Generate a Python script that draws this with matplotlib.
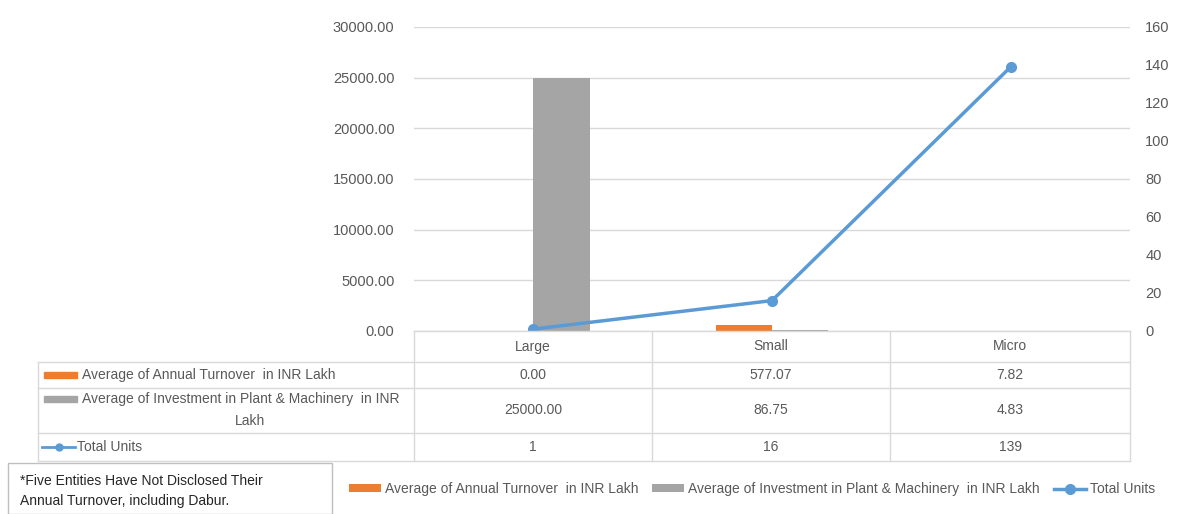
import matplotlib.pyplot as plt
from matplotlib.patches import Rectangle
from matplotlib.lines import Line2D

plt.rcParams['font.family'] = ['Liberation Sans', 'DejaVu Sans']

# data
categories = ['Large', 'Small', 'Micro']
turnover = [0.00, 577.07, 7.82]
investment = [25000.00, 86.75, 4.83]
total_units = [1, 16, 139]
row_labels = ['Average of Annual Turnover  in INR Lakh',
              'Average of Investment in Plant & Machinery  in INR',
              'Lakh',
              'Total Units']
note = '*Five Entities Have Not Disclosed Their\nAnnual Turnover, including Dabur.'

ORANGE = '#ED7D31'
GRAY = '#A5A5A5'
BLUE = '#5B9BD5'
TXT = '#595959'
GRID = '#D9D9D9'
FS = 10

W, H = 1188, 514
fig = plt.figure(figsize=(W / 100, H / 100), dpi=100)


def fx(px):
    return px / W


def fy(py):
    return 1 - py / H


# plot area
left, right, top, bottom = 414, 1130, 27, 331
ax = fig.add_axes([fx(left), fy(bottom), fx(right - left), (bottom - top) / H])
x = list(range(len(categories)))
bw = 0.235
b1 = ax.bar([i - 0.118 for i in x], turnover, width=bw, color=ORANGE,
            label='Average of Annual Turnover  in INR Lakh', zorder=2)
b2 = ax.bar([i + 0.118 for i in x], investment, width=bw, color=GRAY,
            label='Average of Investment in Plant & Machinery  in INR Lakh', zorder=2)
ax.set_xlim(-0.5, 2.5)
ax.set_ylim(0, 30000)
ax.set_yticks(range(0, 30001, 5000))
ax.set_yticklabels([f'{v:.2f}' for v in range(0, 30001, 5000)])
ax.set_xticks([])
ax.grid(axis='y', color=GRID, linewidth=1, zorder=0)
for s in ax.spines.values():
    s.set_visible(False)
ax.tick_params(axis='y', length=0, pad=14, labelsize=10.5, labelcolor=TXT)

ax2 = ax.twinx()
ln, = ax2.plot(x, total_units, color=BLUE, linewidth=2.5, marker='o',
               markersize=7, label='Total Units', zorder=3)
ax2.set_ylim(0, 160)
ax2.set_yticks(range(0, 161, 20))
for s in ax2.spines.values():
    s.set_visible(False)
ax2.tick_params(axis='y', length=0, pad=11, labelsize=10.5, labelcolor=TXT)
ax2.set_xlim(-0.5, 2.5)

# data table
col_x = [left, 652, 890, right]
row_y = [331, 362, 388, 433, 461]
tleft = 38


def hline(y, x0, x1):
    fig.add_artist(Line2D([fx(x0), fx(x1)], [fy(y), fy(y)], color=GRID, linewidth=1))


def vline(xp, y0, y1):
    fig.add_artist(Line2D([fx(xp), fx(xp)], [fy(y0), fy(y1)], color=GRID, linewidth=1))


hline(row_y[0], left, right)
for y in row_y[1:]:
    hline(y, tleft, right)
vline(tleft, row_y[1], row_y[-1])
for cx in col_x:
    vline(cx, row_y[0], row_y[-1])

for i, c in enumerate(categories):
    cx = (col_x[i] + col_x[i + 1]) / 2
    fig.text(fx(cx), fy((row_y[0] + row_y[1]) / 2), c, ha='center', va='center',
             fontsize=FS, color=TXT)

rows = [[f'{v:.2f}' for v in turnover],
        [f'{v:.2f}' for v in investment],
        [str(v) for v in total_units]]
for r, vals in enumerate(rows):
    yc = (row_y[r + 1] + row_y[r + 2]) / 2
    for i, v in enumerate(vals):
        cx = (col_x[i] + col_x[i + 1]) / 2
        fig.text(fx(cx), fy(yc), v, ha='center', va='center', fontsize=FS, color=TXT)

# row labels with legend keys
y1 = (row_y[1] + row_y[2]) / 2
fig.add_artist(Rectangle((fx(44), fy(y1 + 3)), fx(33), 6 / H, color=ORANGE,
                         transform=fig.transFigure))
fig.text(fx(82), fy(y1), row_labels[0], ha='left', va='center', fontsize=FS, color=TXT)
fig.add_artist(Rectangle((fx(44), fy(402)), fx(33), 6 / H, color=GRAY,
                         transform=fig.transFigure))
fig.text(fx(82), fy(399), row_labels[1], ha='left', va='center', fontsize=FS, color=TXT)
fig.text(fx(250), fy(421), row_labels[2], ha='center', va='center', fontsize=FS, color=TXT)
y3 = (row_y[3] + row_y[4]) / 2
fig.add_artist(Line2D([fx(42), fx(75)], [fy(y3), fy(y3)], color=BLUE, linewidth=2))
fig.add_artist(Line2D([fx(58.5)], [fy(y3)], color=BLUE, marker='o', markersize=5))
fig.text(fx(77), fy(y3), row_labels[3], ha='left', va='center', fontsize=FS, color=TXT)

# footnote box
fig.add_artist(Rectangle((fx(8), fy(514)), fx(324), 51 / H, fill=False,
                         edgecolor='#BFBFBF', linewidth=1, transform=fig.transFigure))
fig.text(fx(20), fy(491), note, ha='left', va='center', fontsize=FS,
         color='#262626', linespacing=1.55)

# legend
fig.legend(handles=[b1, b2, ln], loc='center', bbox_to_anchor=(fx(752), fy(489)),
           ncol=3, frameon=False, fontsize=FS, labelcolor=TXT, handlelength=2.3,
           handleheight=0.5, handletextpad=0.3, columnspacing=1.0)

fig.savefig('out.png', dpi=100)
